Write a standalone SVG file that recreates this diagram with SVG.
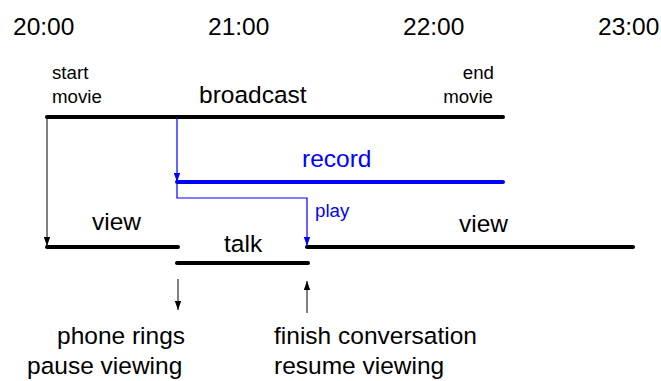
<svg xmlns="http://www.w3.org/2000/svg" width="661" height="381" viewBox="0 0 661 381">
<style>
text{font-family:"Liberation Sans",Arial,sans-serif;fill:#000}
.big{font-size:24.5px}
.small{font-size:18.7px}
.blue{fill:#0000ff}
.bar{stroke:#000;stroke-width:4;stroke-linecap:round;fill:none}
.bbar{stroke:#0000ff;stroke-width:4;stroke-linecap:round;fill:none}
.conn{stroke:#000;stroke-width:1;fill:none}
.bconn{stroke:#0000ff;stroke-width:1.2;fill:none}
</style>
<defs>
<marker id="ah" markerUnits="userSpaceOnUse" markerWidth="9" markerHeight="8" refX="9" refY="4" orient="auto"><path d="M0,0.8 L9,4 L0,7.2 z" fill="#000"/></marker>
<marker id="bah" markerUnits="userSpaceOnUse" markerWidth="9" markerHeight="8" refX="9" refY="4" orient="auto"><path d="M0,0.8 L9,4 L0,7.2 z" fill="#0000ff"/></marker>
</defs>
<rect width="661" height="381" fill="#fff"/>
<g id="times">
<text class="big" x="13" y="35">20:00</text>
<text class="big" x="208" y="35">21:00</text>
<text class="big" x="403" y="35">22:00</text>
<text class="big" x="598" y="35">23:00</text>
</g>
<g id="broadcast">
<line class="bar" x1="47" y1="117" x2="503" y2="117"/>
<text class="big" x="199" y="103">broadcast</text>
<text class="small" x="52" y="79">start</text>
<text class="small" x="52" y="103">movie</text>
<text class="small" x="494" y="79" text-anchor="end">end</text>
<text class="small" x="493" y="103" text-anchor="end">movie</text>
</g>
<g id="record">
<line class="bbar" x1="177" y1="182" x2="503" y2="182"/>
<text class="big blue" x="302" y="167">record</text>
</g>
<g id="view1">
<line class="bar" x1="47" y1="247" x2="178" y2="247"/>
<text class="big" x="92" y="230">view</text>
</g>
<g id="talk">
<line class="bar" x1="177" y1="263" x2="308" y2="263"/>
<text class="big" x="224" y="252">talk</text>
</g>
<g id="view2">
<line class="bar" x1="307" y1="247" x2="633" y2="247"/>
<text class="big" x="459" y="232">view</text>
</g>
<g id="phone">
<text class="big" x="57" y="344">phone rings</text>
<text class="big" x="27" y="374">pause viewing</text>
</g>
<g id="finish">
<text class="big" x="274" y="344">finish conversation</text>
<text class="big" x="274" y="374">resume viewing</text>
</g>
<g id="connectors">
<line class="conn" x1="47" y1="117" x2="47" y2="246" marker-end="url(#ah)"/>
<line class="bconn" x1="177" y1="117" x2="177" y2="182" marker-end="url(#bah)"/>
<polyline class="bconn" points="177,182 177,198 307,198 307,246" marker-end="url(#bah)"/>
<text class="small blue" x="315" y="217">play</text>
<line class="conn" x1="178" y1="279" x2="178" y2="310" marker-end="url(#ah)"/>
<line class="conn" x1="307" y1="313" x2="307" y2="281" marker-end="url(#ah)"/>
</g>
</svg>
